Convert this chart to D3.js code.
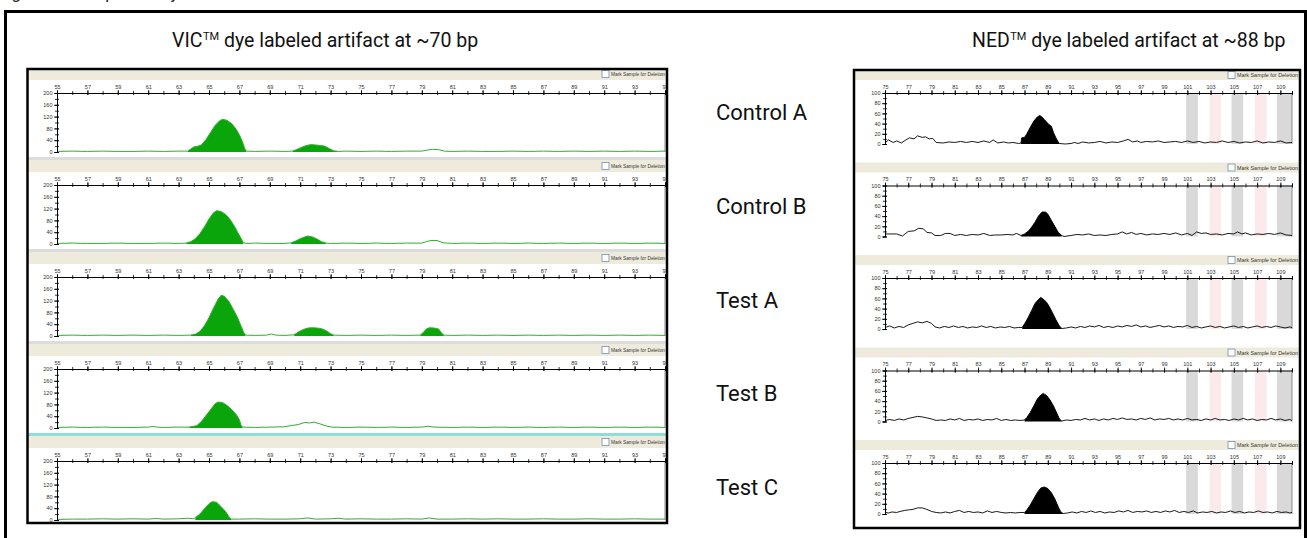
<!DOCTYPE html>
<html>
<head>
<meta charset="utf-8">
<script src="https://cdn.jsdelivr.net/npm/d3@7"></script>
<style>
  body { margin: 0; background: #fff; }
  svg { display: block; }
  .tick text { font-family: "Liberation Sans", Arial, sans-serif; fill: #333; }
</style>
</head>
<body>
<div id="chart"></div>
<script>
// sample names, one per row
const rowLabels = ["Control A", "Control B", "Test A", "Test B", "Test C"];

// size axes (bp) and RFU tick labels
const vicSizeLabels = [55, 57, 59, 61, 63, 65, 67, 69, 71, 73, 75, 77, 79, 81, 83, 85, 87, 89, 91, 93, 95];
const nedSizeLabels = [75, 77, 79, 81, 83, 85, 87, 89, 91, 93, 95, 97, 99, 101, 103, 105, 107, 109];
const vicRfuLabels = [0, 40, 80, 120, 160, 200];
const nedRfuLabels = [0, 20, 40, 60, 80, 100];

// VIC traces [bp, RFU]
const vicControlA = [[55,2],[56,3],[57,2],[58,3],[59,2],[60,2],[61,3],[62,2],[63,3],[63.6,3],[63.8,10],[64.0,17],[64.3,20],[64.5,24],[64.8,42],[65.1,66],[65.4,90],[65.7,106],[65.9,111],[66.2,107],[66.5,96],[66.8,76],[67.0,58],[67.2,35],[67.35,12],[67.45,3],[68,2],[69,3],[70,2],[70.5,3],[70.8,9],[71.1,16],[71.4,22],[71.7,25],[72.0,24],[72.3,22],[72.6,20],[72.9,12],[73.2,4],[73.5,2],[74,3],[75,2],[76,3],[77,2],[78,3],[79,3],[79.3,6],[79.7,9],[80.1,8],[80.5,3],[81,2],[82,3],[83,2],[84,2],[85,3],[86,2],[87,3],[88,2],[89,3],[90,2],[91,3],[92,2],[93,3],[94,2],[95,3]];
const vicControlB = [[55,2],[56,3],[57,2],[58,2],[59,3],[60,2],[61,2],[62,3],[63,2],[63.5,3],[63.8,8],[64.1,18],[64.4,35],[64.7,58],[65.0,85],[65.3,106],[65.5,113],[65.8,110],[66.1,100],[66.4,82],[66.7,58],[66.9,38],[67.1,20],[67.25,4],[67.5,2],[68,3],[69,2],[70,2],[70.4,4],[70.7,10],[71.0,18],[71.3,24],[71.5,27],[71.8,24],[72.1,17],[72.4,8],[72.7,3],[73,2],[74,3],[75,2],[76,3],[77,2],[78,3],[79,3],[79.3,8],[79.6,12],[80.0,12],[80.4,4],[81,2],[82,3],[83,2],[84,3],[85,2],[86,3],[87,2],[88,3],[89,2],[90,3],[91,2],[92,3],[93,2],[94,3],[95,2]];
const vicTestA = [[55,2],[56,3],[57,2],[58,3],[59,2],[60,3],[61,2],[62,3],[63,2],[63.8,3],[64.1,6],[64.4,15],[64.7,35],[65.0,62],[65.3,95],[65.6,125],[65.8,138],[66.0,135],[66.3,118],[66.6,90],[66.9,60],[67.1,35],[67.3,10],[67.4,3],[68,2],[68.8,3],[69.1,7],[69.4,3],[70,2],[70.6,4],[70.9,14],[71.2,22],[71.5,27],[71.8,28],[72.1,27],[72.4,25],[72.7,18],[73.0,8],[73.2,3],[74,2],[75,3],[76,2],[77,3],[78,2],[78.9,3],[79.1,12],[79.3,24],[79.5,28],[79.8,27],[80.1,24],[80.3,10],[80.45,3],[81,2],[82,3],[83,2],[84,3],[85,2],[86,3],[87,2],[88,3],[89,2],[90,3],[91,2],[92,3],[93,2],[94,3],[95,2]];
const vicTestB = [[55,2],[56,3],[57,2],[58,3],[59,2],[60,2],[61,3],[61.3,5],[61.6,3],[62,2],[63,3],[63.7,3],[64.0,6],[64.2,8],[64.5,22],[64.8,42],[65.1,62],[65.4,82],[65.6,88],[65.9,86],[66.2,76],[66.5,62],[66.8,45],[67.0,28],[67.1,10],[67.2,3],[68,2],[69,3],[69.9,4],[70.4,8],[70.9,12],[71.3,19],[71.6,17],[71.9,20],[72.3,14],[72.7,7],[73.1,3],[74,2],[75,3],[76,2],[77,3],[78,2],[79,3],[79.4,6],[79.8,3],[81,2],[82,3],[83,2],[84,3],[85,2],[86,3],[87,2],[88,3],[89,2],[90,3],[91,2],[92,3],[93,2],[94,3],[95,2]];
const vicTestC = [[55,2],[56,3],[57,3],[58,4],[59,3],[60,4],[61,3],[61.5,5],[62,3],[63,4],[63.6,6],[64.0,4],[64.1,8],[64.4,20],[64.7,38],[65.0,55],[65.2,62],[65.5,60],[65.8,45],[66.1,28],[66.3,12],[66.45,3],[67,3],[68,4],[69,3],[70,3],[71,4],[71.5,7],[72,3],[73,4],[73.5,6],[74,3],[75,4],[76,3],[77,3],[78,4],[79,3],[79.5,7],[80,3],[81,3],[82,4],[83,3],[84,4],[85,3],[86,3],[87,4],[88,3],[89,3],[90,4],[91,3],[92,3],[93,4],[94,3],[95,3]];

// called (filled) peak ranges [from, to] in bp
const vicFills = [
  [[63.6, 67.45], [70.5, 73.5]],
  [[63.5, 67.25], [70.4, 72.7]],
  [[63.8, 67.4], [70.6, 73.2], [78.9, 80.45]],
  [[63.7, 67.2]],
  [[64.05, 66.45]]
];

// NED traces [bp, RFU]
const nedControlA = [[75,2],[75.3,8],[75.7,3],[76.0,6],[76.4,2],[76.8,8],[77.1,12],[77.5,10],[77.8,16],[78.2,13],[78.5,14],[78.8,10],[79.1,11],[79.4,3],[80,2],[80.5,4],[81,3],[81.5,5],[82,3],[82.5,5],[83,3],[83.5,6],[84,3],[84.3,8],[84.7,2],[85.2,4],[85.6,2],[86,3],[86.5,1],[86.7,2],[86.75,12],[87.0,13],[87.2,20],[87.5,33],[87.8,45],[88.1,53],[88.3,56],[88.5,53],[88.7,48],[88.9,43],[89.1,38],[89.3,35],[89.5,22],[89.7,12],[89.9,4],[90.0,1],[90.5,0],[91,1],[91.3,3],[91.6,1],[92,4],[92.5,2],[93,3],[93.5,5],[94,2],[94.5,4],[95,3],[95.5,6],[95.9,9],[96.3,4],[96.7,6],[97,3],[97.5,5],[98,4],[98.5,6],[99,3],[99.5,4],[100,5],[100.5,3],[101,6],[101.5,3],[102,5],[102.5,2],[103,4],[103.5,3],[104,6],[104.5,3],[105,5],[105.5,2],[106,4],[106.5,3],[107,6],[107.5,2],[108,4],[108.5,3],[109,6],[109.5,2],[110,3]];
const nedControlB = [[75,5],[76,5],[76.5,1],[77,10],[77.5,11],[77.9,16],[78.3,15],[78.6,8],[79,7],[79.3,2],[79.8,2],[80.2,6],[80.6,6],[81,2],[81.5,4],[82,2],[82.5,4],[83,3],[83.5,6],[84,2],[84.5,3],[85,3],[85.5,4],[86,3],[86.3,6],[86.7,2],[87.0,5],[87.3,10],[87.6,18],[87.9,28],[88.2,40],[88.5,48],[88.8,48],[89.0,44],[89.3,32],[89.6,20],[89.9,8],[90.2,2],[90.4,0],[91,2],[91.5,4],[92,3],[92.5,5],[93,2],[93.5,3],[94,2],[94.5,4],[95,5],[95.4,9],[95.8,5],[96.2,8],[96.6,4],[97,6],[97.5,3],[98,5],[98.5,4],[99,6],[99.5,4],[100,7],[100.5,3],[101,6],[101.4,2],[101.8,9],[102.2,6],[102.6,7],[103,4],[103.5,5],[104,3],[104.5,6],[105,5],[105.3,9],[105.7,5],[106,7],[106.5,3],[107,5],[107.5,4],[108,6],[108.5,4],[109,7],[109.5,3],[110,2]];
const nedTestA = [[75,3],[75.4,6],[75.8,2],[76.2,5],[76.6,3],[77,8],[77.4,11],[77.8,14],[78.2,12],[78.6,15],[79,11],[79.3,4],[79.7,2],[80.1,5],[80.5,3],[80.9,6],[81.3,3],[81.7,5],[82.1,2],[82.5,4],[82.9,3],[83.3,6],[83.7,3],[84.1,5],[84.5,2],[84.9,4],[85.3,3],[85.7,5],[86.1,2],[86.5,3],[86.8,3],[87.0,10],[87.3,22],[87.6,36],[87.9,50],[88.2,58],[88.4,62],[88.7,57],[88.9,52],[89.1,45],[89.4,32],[89.7,18],[90.0,6],[90.2,1],[90.6,2],[91,4],[91.4,2],[91.8,5],[92.2,3],[92.6,6],[93,4],[93.4,7],[93.8,3],[94.2,5],[94.6,3],[95,6],[95.4,4],[95.8,7],[96.2,5],[96.6,8],[97,4],[97.4,6],[97.8,3],[98.2,5],[98.6,7],[99,4],[99.4,6],[99.8,3],[100.2,5],[100.6,4],[101,7],[101.4,3],[101.8,5],[102.2,2],[102.6,4],[103,6],[103.4,3],[103.8,5],[104.2,2],[104.6,4],[105,6],[105.4,3],[105.8,5],[106.2,2],[106.6,4],[107,6],[107.4,3],[107.8,5],[108.2,3],[108.6,6],[109,4],[109.4,2],[109.8,4],[110,3]];
const nedTestB = [[75,2],[75.4,4],[75.8,2],[76.2,5],[76.6,3],[77,6],[77.4,8],[77.8,10],[78.2,9],[78.6,7],[79,5],[79.4,2],[79.8,3],[80.2,2],[80.6,5],[81,3],[81.4,6],[81.8,2],[82.2,4],[82.6,3],[83,5],[83.4,2],[83.8,4],[84.2,3],[84.6,6],[85,2],[85.4,4],[85.8,2],[86.2,3],[86.6,2],[87.0,3],[87.2,8],[87.5,18],[87.8,31],[88.1,44],[88.4,52],[88.6,55],[88.9,51],[89.2,42],[89.5,30],[89.8,15],[90.0,5],[90.2,1],[90.6,3],[91,2],[91.4,4],[91.8,3],[92.2,6],[92.6,3],[93,5],[93.4,2],[93.8,5],[94.2,3],[94.6,6],[95,4],[95.4,7],[95.8,4],[96.2,5],[96.6,3],[97,6],[97.4,4],[97.8,7],[98.2,3],[98.6,5],[99,4],[99.4,6],[99.8,3],[100.2,5],[100.6,3],[101,6],[101.4,3],[101.8,4],[102.2,2],[102.6,5],[103,3],[103.4,6],[103.8,3],[104.2,4],[104.6,2],[105,5],[105.4,3],[105.8,6],[106.2,3],[106.6,5],[107,2],[107.4,4],[107.8,3],[108.2,6],[108.6,3],[109,5],[109.4,2],[109.8,4],[110,2]];
const nedTestC = [[75,3],[75.3,2],[75.6,4],[76,3],[76.3,5],[76.7,7],[77,8],[77.4,9],[77.8,12],[78.2,12],[78.6,9],[79,5],[79.4,3],[79.8,2],[80.2,4],[80.6,2],[81,5],[81.4,7],[81.8,3],[82.2,5],[82.6,3],[83,4],[83.4,2],[83.8,6],[84.2,3],[84.6,5],[85,3],[85.4,2],[85.8,3],[86.2,2],[86.6,3],[87.0,3],[87.2,8],[87.5,18],[87.8,30],[88.1,42],[88.4,51],[88.7,53],[89.0,50],[89.3,42],[89.6,30],[89.9,14],[90.1,5],[90.3,1],[90.7,2],[91.1,4],[91.5,2],[91.9,5],[92.3,3],[92.7,6],[93.1,3],[93.5,5],[93.9,2],[94.3,4],[94.7,3],[95.1,6],[95.5,4],[95.9,7],[96.3,3],[96.7,5],[97.1,4],[97.5,6],[97.9,3],[98.3,5],[98.7,3],[99.1,6],[99.5,4],[99.9,7],[100.3,3],[100.7,5],[101.1,3],[101.5,6],[101.9,2],[102.3,4],[102.7,3],[103.1,5],[103.5,2],[103.9,4],[104.3,3],[104.7,6],[105.1,3],[105.5,5],[105.9,2],[106.3,4],[106.7,3],[107.1,6],[107.5,3],[107.9,4],[108.3,2],[108.7,5],[109.1,3],[109.5,4],[109.8,2],[110,3]];

const nedFills = [
  [[86.7, 90.0]],
  [[86.7, 90.3]],
  [[86.8, 90.2]],
  [[87.0, 90.2]],
  [[87.0, 90.3]]
];

// shaded size bins on the NED plots [from, to, kind]
const nedBins = [[100.9, 101.9, "gray"], [102.9, 103.9, "pink"], [104.8, 105.8, "gray"], [106.8, 107.8, "pink"], [108.7, 110, "gray"]];

const svg = d3.select("#chart")
  .append("svg")
    .attr("width", 1307)
    .attr("height", 538);

// caption line, cut off at the top of the page
svg.append("text")
  .attr("x", -2)
  .attr("y", -1)
  .attr("font-family", "Roboto, sans-serif")
  .attr("font-size", 17)
  .attr("fill", "#222")
  .text("Figure 4  Examples of dye-labeled artifacts");

// outer frame
svg.append("path")
  .attr("d", "M5.5,540 V11.5 H1305.5 V540")
  .attr("fill", "none")
  .attr("stroke", "#000")
  .attr("stroke-width", 3);

// titles
function title(x, dye, rest) {
  const t = svg.append("text")
    .attr("x", x)
    .attr("y", 47)
    .attr("font-family", "Roboto, sans-serif")
    .attr("font-size", 19.5)
    .attr("fill", "#111");
  t.append("tspan").text(dye);
  t.append("tspan").attr("font-size", 11).attr("dx", 0.5).attr("dy", -7).text("TM");
  t.append("tspan").attr("dy", 7).text(rest);
}
title(172, "VIC", " dye labeled artifact at ~70 bp");
title(972, "NED", " dye labeled artifact at ~88 bp");

// row labels in the middle column
svg.append("g")
  .selectAll("text")
  .data(rowLabels)
  .join("text")
    .attr("x", 716)
    .attr("y", (d, i) => 120 + 93.8 * i)
    .attr("font-family", "Roboto, sans-serif")
    .attr("font-size", 22)
    .attr("fill", "#111")
    .text(d => d);

function drawPanel(p) {
  svg.append("clipPath").attr("id", p.id)
    .append("rect")
      .attr("x", p.left).attr("y", p.top)
      .attr("width", p.right - p.left).attr("height", p.bottom - p.top);

  const g = svg.append("g").attr("clip-path", `url(#${p.id})`);
  g.append("rect")
    .attr("x", p.left).attr("y", p.top)
    .attr("width", p.right - p.left).attr("height", p.bottom - p.top)
    .attr("fill", "#fff");

  const x = d3.scaleLinear().domain(p.domain).range([p.plotLeft, p.plotRight]);
  const minorX = d3.range(p.domain[0], p.domain[1] + 1, 1);
  const minorY = d3.range(0, p.yMax + 1, p.yMax / 10);

  p.traces.forEach((trace, i) => {
    const base = p.base0 + p.step * i;
    const y = d3.scaleLinear().domain([0, p.yMax]).range([base, base - p.plotH]);

    // header strip with the deletion checkbox
    const hy = base - p.headTop;
    g.append("rect")
      .attr("x", p.left).attr("y", hy)
      .attr("width", p.right - p.left).attr("height", p.headH)
      .attr("fill", "#efebdc");
    g.append("rect")
      .attr("x", p.checkX).attr("y", hy + p.headH / 2 - 3.5)
      .attr("width", 7).attr("height", 7)
      .attr("fill", "#fff").attr("stroke", "#6f8fb4").attr("stroke-width", 0.8);
    g.append("text")
      .attr("x", p.checkX + 9).attr("y", hy + p.headH / 2 + 2)
      .attr("font-family", "Liberation Sans, Arial, sans-serif")
      .attr("font-size", 5.5)
      .attr("textLength", p.right - p.checkX - 11)
      .attr("lengthAdjust", "spacingAndGlyphs")
      .attr("fill", "#333")
      .text("Mark Sample for Deletion");

    if (p.separator) {
      g.append("rect")
        .attr("x", p.left).attr("y", base + 5)
        .attr("width", p.right - p.left).attr("height", 3)
        .attr("fill", i === 3 ? "#8edddd" : "#dcdcdc");
    }

    // size bins
    (p.bins || []).forEach(b => {
      g.append("rect")
        .attr("x", x(b[0])).attr("y", y(p.yMax))
        .attr("width", x(b[1]) - x(b[0])).attr("height", p.plotH)
        .attr("fill", b[2] === "gray" ? "#d9d9d9" : "#fbe9ec");
    });

    // right edge of the plot
    g.append("line")
      .attr("x1", p.plotRight).attr("x2", p.plotRight)
      .attr("y1", y(p.yMax)).attr("y2", base)
      .attr("stroke", "#8a8a8a").attr("stroke-width", 1);

    // called peaks
    const area = d3.area().x(d => x(d[0])).y0(base).y1(d => y(d[1]));
    p.fills[i].forEach(r => {
      g.append("path")
        .datum(trace.filter(d => d[0] >= r[0] && d[0] <= r[1]))
        .attr("fill", p.fill)
        .attr("d", area);
    });

    // raw trace
    g.append("path")
      .datum(trace)
      .attr("fill", "none")
      .attr("stroke", p.stroke)
      .attr("stroke-width", p.strokeW)
      .attr("stroke-linejoin", "round")
      .attr("d", d3.line().x(d => x(d[0])).y(d => y(d[1])));

    // top size axis
    const ax = g.append("g")
      .attr("transform", `translate(0,${y(p.yMax)})`)
      .call(d3.axisTop(x).tickValues(minorX).tickSizeOuter(0).tickSize(2).tickFormat(""));
    ax.selectAll(".tick line").attr("y1", 2).attr("stroke-width", 0.8);
    ax.select(".domain").attr("stroke-width", 1);
    const axL = g.append("g")
      .attr("transform", `translate(0,${y(p.yMax)})`)
      .call(d3.axisTop(x).tickValues(p.xLabels).tickSizeOuter(0).tickSize(3).tickPadding(1.5));
    axL.select(".domain").remove();
    axL.selectAll(".tick line").attr("y1", 2).attr("stroke-width", 0.8);
    axL.selectAll(".tick text").attr("font-size", 5.5);

    // left RFU axis
    const ay = g.append("g")
      .attr("transform", `translate(${p.plotLeft},0)`)
      .call(d3.axisLeft(y).tickValues(minorY).tickSizeOuter(0).tickSize(2).tickFormat(""));
    ay.selectAll(".tick line").attr("x1", 2).attr("stroke-width", 0.8);
    const ayL = g.append("g")
      .attr("transform", `translate(${p.plotLeft},0)`)
      .call(d3.axisLeft(y).tickValues(p.yLabels).tickSizeOuter(0).tickSize(3).tickPadding(1.5));
    ayL.select(".domain").remove();
    ayL.selectAll(".tick line").attr("x1", 2).attr("stroke-width", 0.8);
    ayL.selectAll(".tick text").attr("font-size", 5.5);
  });

  // panel border
  svg.append("rect")
    .attr("x", p.left).attr("y", p.top)
    .attr("width", p.right - p.left).attr("height", p.bottom - p.top)
    .attr("fill", "none")
    .attr("stroke", "#000")
    .attr("stroke-width", 2.5);
}

drawPanel({
  id: "vic-clip",
  left: 27.5, right: 667, top: 69, bottom: 523,
  plotLeft: 57, plotRight: 665,
  domain: [55, 95], yMax: 200,
  base0: 152, step: 92, plotH: 59,
  headTop: 84, headH: 12, checkX: 602,
  separator: true,
  traces: [vicControlA, vicControlB, vicTestA, vicTestB, vicTestC],
  fills: vicFills,
  fill: "#0aa50a", stroke: "#2fae2f", strokeW: 1,
  xLabels: vicSizeLabels, yLabels: vicRfuLabels
});

drawPanel({
  id: "ned-clip",
  left: 854, right: 1300, top: 70, bottom: 528,
  plotLeft: 885, plotRight: 1292,
  domain: [75, 110], yMax: 100,
  base0: 144, step: 92.5, plotH: 51,
  headTop: 74, headH: 10, checkX: 1228,
  separator: false,
  bins: nedBins,
  traces: [nedControlA, nedControlB, nedTestA, nedTestB, nedTestC],
  fills: nedFills,
  fill: "#000", stroke: "#000", strokeW: 0.9,
  xLabels: nedSizeLabels, yLabels: nedRfuLabels
});
</script>
</body>
</html>
